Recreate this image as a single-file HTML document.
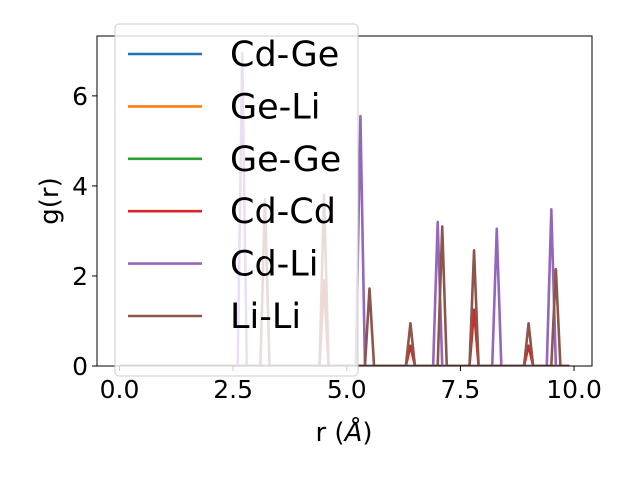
<!DOCTYPE html>
<html><head><meta charset="utf-8"><style>
body{margin:0;background:#fff}
svg text{font-family:"DejaVu Sans","Liberation Sans",sans-serif}
</style></head><body>
<svg id="c" width="640" height="480" xmlns="http://www.w3.org/2000/svg"></svg>
<script>
const seriesNames=["Cd-Ge","Ge-Li","Ge-Ge","Cd-Cd","Cd-Li","Li-Li"];
const colors=["#1f77b4","#ff7f0e","#2ca02c","#d62728","#9467bd","#8c564b"];
const peakCdCdR=[4.5,6.4,7.8,9.0];
const peakCdCdV=[1.9,0.45,1.25,0.45];
const peakCdLiR=[2.7,5.3,7.0,8.3,9.5];
const peakCdLiV=[6.95,5.55,3.2,3.05,3.48];
const peakLiLiR=[3.2,4.5,5.5,6.4,7.1,7.8,9.0,9.6];
const peakLiLiV=[3.7,3.8,1.72,0.95,3.1,2.57,0.95,2.15];
const xTicks=[0,2.5,5,7.5,10];
const xTickLabels=["0.0","2.5","5.0","7.5","10.0"];
const yTicks=[0,2,4,6];
const yTickLabels=["0","2","4","6"];
const L=97,R=592,T=36,B=366,xmin=-0.495,xmax=10.395,ymin=0,ymax=7.33;
const X=v=>L+(v-xmin)/(xmax-xmin)*(R-L);
const Y=v=>B-(v-ymin)/(ymax-ymin)*(B-T);
const svg=document.getElementById('c');
const NS="http://www.w3.org/2000/svg";
function mk(t,a,p){const e=document.createElementNS(NS,t);for(const k in a)e.setAttribute(k,a[k]);(p||svg).appendChild(e);return e;}
function build(rs,vs){const out=[];for(let i=0;i<=99;i++){const r=i/10;let v=0;rs.forEach((pr,j)=>{if(Math.abs(pr-r)<1e-6)v=vs[j];});out.push([r,v]);}return out;}
const all=[build([],[]),build([],[]),build([],[]),build(peakCdCdR,peakCdCdV),build(peakCdLiR,peakCdLiV),build(peakLiLiR,peakLiLiV)];
const cp=mk('clipPath',{id:'cp'});mk('rect',{x:L,y:T-5,width:R-L,height:B-T+5},cp);
const g=mk('g',{'clip-path':'url(#cp)'});
all.forEach((d,i)=>{
  const p=mk('polyline',{points:d.map(q=>X(q[0])+','+Y(q[1])).join(' '),fill:'none',stroke:colors[i],'stroke-width':2.6,'stroke-linejoin':'round'},g);
  
  
});
const fr=mk('rect',{x:L,y:T,width:R-L,height:B-T,fill:'none',stroke:'#000','stroke-width':1});

xTicks.forEach((t,i)=>{
  mk('line',{x1:X(t),x2:X(t),y1:B,y2:B+5,stroke:'#000'});
  const tx=mk('text',{x:X(t),y:B+32,'text-anchor':'middle','font-size':25});tx.textContent=xTickLabels[i];
  
});
yTicks.forEach((t,i)=>{
  mk('line',{x1:L-5,x2:L,y1:Y(t),y2:Y(t),stroke:'#000'});
  const tx=mk('text',{x:L-9,y:Y(t)+9,'text-anchor':'end','font-size':25});tx.textContent=yTickLabels[i];
  
});
const xl=mk('text',{x:344,y:441,'text-anchor':'middle','font-size':26});xl.innerHTML='r (<tspan font-style="italic">Å</tspan>)';

const yl=mk('text',{x:58,y:201,'text-anchor':'middle','font-size':26,transform:'rotate(-90 58 201)'});yl.textContent='g(r)';

const lg=mk('g',{});

mk('rect',{x:115,y:24,width:243,height:352,rx:4,fill:'#fff','fill-opacity':0.8,stroke:'#ccc'},lg);
seriesNames.forEach((n,i)=>{
  const y=54+i*52.4;
  const e=mk('g',{},lg);
  
  mk('line',{x1:128,x2:202,y1:y,y2:y,stroke:colors[i],'stroke-width':2.6},e);
  const t=mk('text',{x:230,y:y+12,'font-size':35},e);t.textContent=n;
});
</script>
</body></html>
